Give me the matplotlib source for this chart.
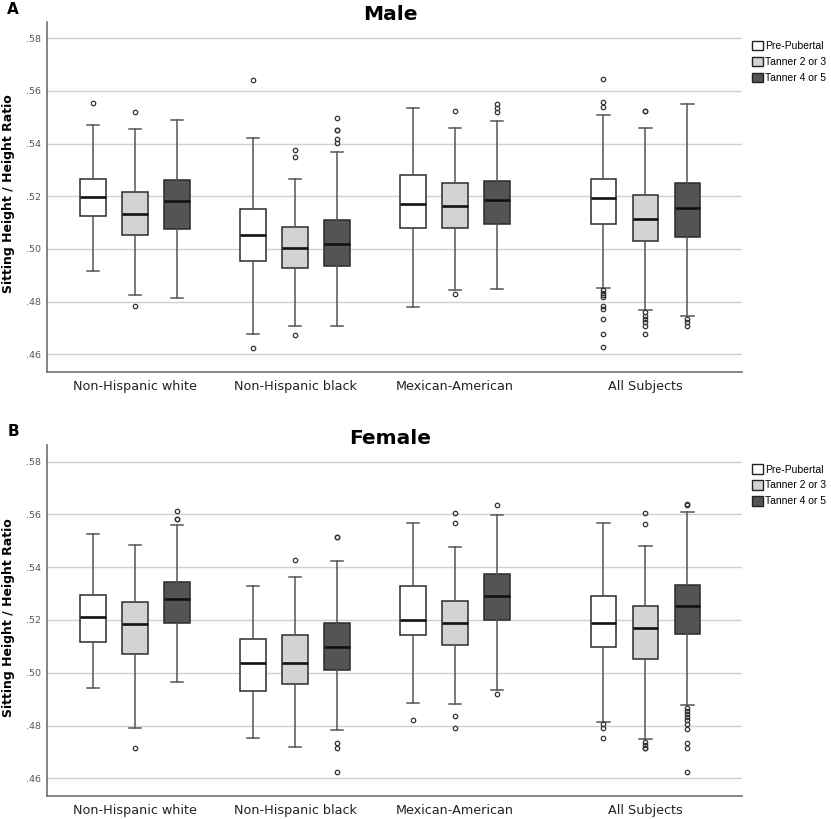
import matplotlib
matplotlib.use("Agg")
import matplotlib.pyplot as plt
from matplotlib.patches import Patch

groups = ["Non-Hispanic white", "Non-Hispanic black", "Mexican-American", "All Subjects"]
stages = ["Pre-Pubertal", "Tanner 2 or 3", "Tanner 4 or 5"]
stage_colors = ["#ffffff", "#d3d3d3", "#545454"]
yticks = [0.46, 0.48, 0.50, 0.52, 0.54, 0.56, 0.58]
ytick_labels = [".46", ".48", ".50", ".52", ".54", ".56", ".58"]

# ---- Male (panel A): per group, per stage ----
male_whislo = [[0.4915, 0.4826, 0.4814], [0.4676, 0.4708, 0.4709],
               [0.4780, 0.4846, 0.4848], [0.4853, 0.4770, 0.4745]]
male_q1 = [[0.5124, 0.5054, 0.5076], [0.4953, 0.4929, 0.4934],
           [0.5078, 0.5081, 0.5094], [0.5096, 0.5029, 0.5046]]
male_med = [[0.5199, 0.5132, 0.5184], [0.5052, 0.5005, 0.5020],
            [0.5172, 0.5165, 0.5186], [0.5192, 0.5113, 0.5154]]
male_q3 = [[0.5267, 0.5216, 0.5261], [0.5152, 0.5085, 0.5109],
           [0.5281, 0.5249, 0.5258], [0.5265, 0.5206, 0.5249]]
male_whishi = [[0.5470, 0.5454, 0.5489], [0.5423, 0.5267, 0.5368],
               [0.5535, 0.5461, 0.5486], [0.5509, 0.5461, 0.5549]]
male_fliers = [
    [[0.5556], [0.5522, 0.4782], []],
    [[0.5643, 0.4623], [0.5377, 0.5348, 0.4673], [0.5499, 0.5453, 0.5453, 0.5416, 0.5403]],
    [[], [0.5524, 0.4829], [0.5552, 0.5535, 0.5519]],
    [[0.5644, 0.5559, 0.5538, 0.4843, 0.4834, 0.4827, 0.4816, 0.4782, 0.4771, 0.4735, 0.4678, 0.4628],
     [0.5524, 0.5524, 0.4761, 0.4747, 0.4735, 0.4723, 0.4709, 0.4676],
     [0.4735, 0.4722, 0.4709]],
]

# ---- Female (panel B) ----
female_whislo = [[0.4942, 0.4790, 0.4965], [0.4753, 0.4719, 0.4784],
                 [0.4884, 0.4882, 0.4935], [0.4813, 0.4747, 0.4876]]
female_q1 = [[0.5116, 0.5071, 0.5187], [0.4932, 0.4959, 0.5009],
             [0.5143, 0.5106, 0.5200], [0.5096, 0.5051, 0.5148]]
female_med = [[0.5213, 0.5184, 0.5280], [0.5038, 0.5035, 0.5099],
              [0.5200, 0.5187, 0.5290], [0.5190, 0.5170, 0.5251]]
female_q3 = [[0.5295, 0.5267, 0.5344], [0.5129, 0.5142, 0.5187],
             [0.5327, 0.5270, 0.5373], [0.5289, 0.5254, 0.5333]]
female_whishi = [[0.5524, 0.5484, 0.5561], [0.5327, 0.5363, 0.5423],
                 [0.5568, 0.5476, 0.5596], [0.5566, 0.5482, 0.5609]]
female_fliers = [
    [[], [0.4715], [0.5611, 0.5581, 0.5581]],
    [[], [0.5429], [0.5514, 0.5514, 0.4732, 0.4713, 0.4624]],
    [[0.4822], [0.5605, 0.5566, 0.4835, 0.4790], [0.5637, 0.4920]],
    [[0.4806, 0.4789, 0.4753],
     [0.5604, 0.5563, 0.4738, 0.4725, 0.4715, 0.4715],
     [0.5641, 0.5637, 0.4867, 0.4856, 0.4844, 0.4832, 0.4820, 0.4804, 0.4785, 0.4732, 0.4715, 0.4623]],
]

# ---- layout ----
group_pos = [0.0, 1.0, 2.0, 3.19]
offsets = [-0.2625, 0.0, 0.2625]
box_w = 0.16

W, H = 831, 819
fig = plt.figure(figsize=(W / 100, H / 100), dpi=100)

def px_ax(left, top, right, bottom):
    return fig.add_axes([left / W, 1 - bottom / H, (right - left) / W, (bottom - top) / H])

def draw_panel(ax, whislo, q1, med, q3, whishi, fliers):
    for g in range(len(groups)):
        for s in range(len(stages)):
            st = dict(whislo=whislo[g][s], q1=q1[g][s], med=med[g][s], q3=q3[g][s],
                      whishi=whishi[g][s], fliers=fliers[g][s])
            ax.bxp([st], positions=[group_pos[g] + offsets[s]], widths=box_w,
                   patch_artist=True, showfliers=True,
                   boxprops=dict(facecolor=stage_colors[s], edgecolor="#2b2b2b", linewidth=1.1),
                   medianprops=dict(color="#111111", linewidth=1.9),
                   whiskerprops=dict(color="#555555", linewidth=1.1),
                   capprops=dict(color="#555555", linewidth=1.1),
                   capwidths=box_w / 2,
                   flierprops=dict(marker="o", markersize=3.2, markerfacecolor="none",
                                   markeredgecolor="#333333", markeredgewidth=0.9),
                   zorder=3)
    ax.set_xlim(-0.55, 3.794)
    ax.set_ylim(0.4534, 0.5863)
    ax.set_yticks(yticks)
    ax.set_yticklabels(ytick_labels, fontsize=6.8, color="#555555")
    ax.set_xticks(group_pos)
    ax.set_xticklabels(groups, fontsize=9.2, color="#222222")
    ax.tick_params(axis="both", length=0, pad=4)
    ax.tick_params(axis="x", pad=6)
    ax.grid(axis="y", color="#d0d0d0", linewidth=1.0, zorder=0)
    ax.set_axisbelow(True)
    for sp in ["top", "right"]:
        ax.spines[sp].set_visible(False)
    for sp in ["left", "bottom"]:
        ax.spines[sp].set_color("#707070")
        ax.spines[sp].set_linewidth(1.2)
    handles = [Patch(facecolor=c, edgecolor="#222222", linewidth=1.0) for c in stage_colors]
    ax.legend(handles, stages, loc="upper left", bbox_to_anchor=(1.015, 0.945),
              frameon=False, prop=dict(family="Liberation Sans", size=7.5),
              handlelength=1.0, handleheight=1.0, handletextpad=0.25,
              labelspacing=0.55, borderpad=0, borderaxespad=0)

axA = px_ax(47, 21.7, 742, 371.7)
draw_panel(axA, male_whislo, male_q1, male_med, male_q3, male_whishi, male_fliers)
axB = px_ax(47, 445, 742, 795.7)
draw_panel(axB, female_whislo, female_q1, female_med, female_q3, female_whishi, female_fliers)

fig.text(390 / W, 1 - 15 / H, "Male", ha="center", va="center", fontsize=14.5, fontweight="bold")
fig.text(390 / W, 1 - 438 / H, "Female", ha="center", va="center", fontsize=14.5, fontweight="bold")
fig.text(13 / W, 1 - 10 / H, "A", ha="center", va="center", fontsize=11, fontweight="bold")
fig.text(13 / W, 1 - 432 / H, "B", ha="center", va="center", fontsize=11, fontweight="bold")
fig.text(9 / W, 1 - 194 / H, "Sitting Height / Height Ratio", rotation=90, ha="center",
         va="center", fontsize=9, fontweight="bold")
fig.text(9 / W, 1 - 618 / H, "Sitting Height / Height Ratio", rotation=90, ha="center",
         va="center", fontsize=9, fontweight="bold")

fig.savefig("out.png", dpi=100, facecolor="white")
